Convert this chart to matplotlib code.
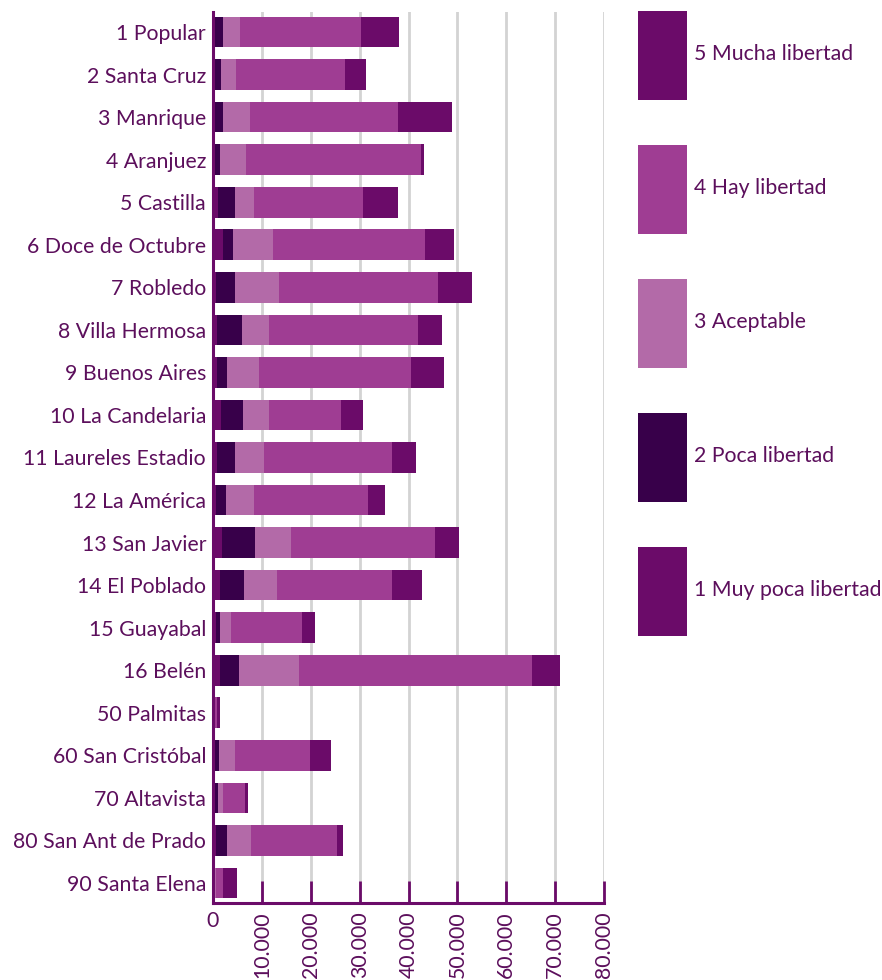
import numpy as np
import matplotlib
matplotlib.use("Agg")
from matplotlib import pyplot as plt
from matplotlib.ticker import FuncFormatter

comunas = ["1 Popular", "2 Santa Cruz", "3 Manrique", "4 Aranjuez", "5 Castilla",
           "6 Doce de Octubre", "7 Robledo", "8 Villa Hermosa", "9 Buenos Aires",
           "10 La Candelaria", "11 Laureles Estadio", "12 La América", "13 San Javier",
           "14 El Poblado", "15 Guayabal", "16 Belén", "50 Palmitas", "60 San Cristóbal",
           "70 Altavista", "80 San Ant de Prado", "90 Santa Elena"]

muy_poca = [300, 300, 300, 300, 1100, 2100, 700, 900, 900, 1700, 900, 700, 1900,
            1500, 700, 1500, 50, 200, 200, 700, 100]
poca = [1700, 1300, 1700, 1100, 3300, 2050, 3700, 5100, 2050, 4500, 3500, 2050, 6750,
        4900, 800, 3900, 50, 1000, 800, 2250, 100]
aceptable = [3500, 3050, 5500, 5350, 3900, 8200, 9200, 5550, 6550, 5350, 5950, 5550, 7400,
             6750, 2250, 12100, 350, 3300, 1000, 4900, 400]
hay = [24800, 22350, 30350, 35850, 22350, 30950, 32400, 30350, 30950, 14550, 26250, 23350,
       29300, 23550, 14550, 47750, 300, 15350, 4500, 17600, 1450]
mucha = [7800, 4300, 11050, 600, 7150, 5950, 6950, 4900, 6750, 4500, 4900, 3500, 4900,
         6150, 2650, 5750, 650, 4300, 600, 1250, 2850]

series = [("1 Muy poca libertad", muy_poca, "#6b0b69"),
          ("2 Poca libertad", poca, "#38004a"),
          ("3 Aceptable", aceptable, "#b36aa8"),
          ("4 Hay libertad", hay, "#9f3d93"),
          ("5 Mucha libertad", mucha, "#6b0b69")]

texto = "#5c0f5c"
plt.rcParams["font.family"] = ["Lato", "DejaVu Sans"]

fig = plt.figure(figsize=(8.82, 9.8), dpi=100)
ax = fig.add_axes([213 / 882, 77 / 980, (604 - 213) / 882, (968 - 77) / 980])

y = np.arange(len(comunas))
izq = np.zeros(len(comunas))
barras = []
for nombre, vals, color in series:
    b = ax.barh(y, vals, left=izq, height=0.72, color=color, label=nombre, zorder=3)
    barras.append(b)
    izq = izq + np.array(vals)

ax.set_ylim(20.47, -0.47)
ax.set_xlim(0, 80000)
ax.set_yticks(y)
ax.set_yticklabels(comunas, fontsize=15.3, color=texto)
ax.tick_params(axis="y", length=0, pad=5)

ax.set_xticks(np.arange(0, 80001, 10000))
ax.xaxis.set_major_formatter(FuncFormatter(lambda v, p: "0" if v == 0 else f"{int(v):,}".replace(",", ".")))
ax.tick_params(axis="x", direction="in", length=16, width=2, color="#6b0b69",
               labelsize=15.3, labelcolor=texto, pad=6)
for lab in ax.get_xticklabels()[1:]:
    lab.set_rotation(90)

ax.grid(axis="x", color="#d3d3d3", linewidth=2, zorder=0)
for s in ["top", "right"]:
    ax.spines[s].set_visible(False)
ax.spines["left"].set_color("#6b0b69")
ax.spines["left"].set_linewidth(2.2)
ax.spines["bottom"].set_color("#6b0b69")
ax.spines["bottom"].set_linewidth(2.2)
ax.spines["left"].set_zorder(5)

# tamaños de la leyenda en puntos
fs = 15.3
alto = 89 * 0.72
hh = (alto / fs - 0.245) / 0.65
hs = [b.patches[0] for b in barras][::-1]
labs = [s[0] for s in series][::-1]
leg = fig.legend(hs, labs, loc="upper left", bbox_to_anchor=(638 / 882, 1 - 11 / 980),
                 frameon=False, fontsize=fs, handlelength=49 * 0.72 / fs, handleheight=hh,
                 labelspacing=45 * 0.72 / fs, handletextpad=7 * 0.72 / fs,
                 borderpad=0, borderaxespad=0)
for t in leg.get_texts():
    t.set_color(texto)

fig.savefig("out.png", dpi=100)
